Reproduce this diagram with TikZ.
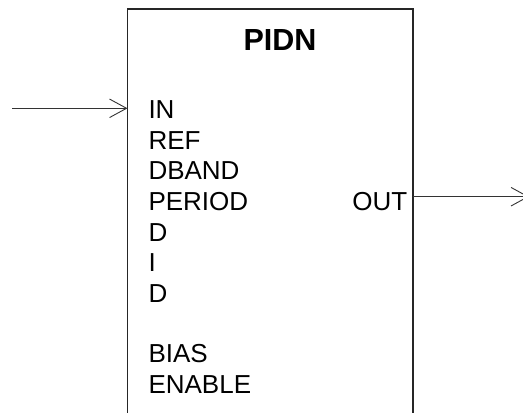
\documentclass[tikz,border=0pt]{standalone}
\usepackage{fontspec}
\setmainfont{Liberation Sans}
\usetikzlibrary{arrows.meta}
\begin{document}
\begin{tikzpicture}[x=1pt,y=-1pt,
  lbl/.style={anchor=base west,inner sep=0pt,font=\fontsize{26}{30}\selectfont},
  boxline/.style={line width=1.8pt,black!85},
  wire/.style={line width=0.9pt,black!80,-{Straight Barb[length=17pt,width=18.5pt,line width=0.9pt]}}]
\useasboundingbox (0,0) rectangle (523,413);
\coordinate (bl) at (127.5,425);
\coordinate (tl) at (127.5,9);
\coordinate (tr) at (413,9);
\coordinate (br) at (413,425);
\draw[boxline] (bl) -- (tl) -- (tr) -- (br);
\node[anchor=base,inner sep=0pt,font=\fontsize{30.5}{36}\selectfont\bfseries] (title) at (280,50) {PIDN};
\node[lbl] (in) at (148.3,118.3) {IN};
\node[lbl] (ref) at (148.3,149) {REF};
\node[lbl] (dband) at (148.3,179.7) {DBAND};
\node[lbl] (period) at (148.3,210.3) {PERIOD};
\node[lbl] (d1) at (148.3,241) {D};
\node[lbl] (i) at (148.3,271.7) {I};
\node[lbl] (d2) at (148.3,302.3) {D};
\node[lbl] (bias) at (148.3,362.7) {BIAS};
\node[lbl] (enable) at (148.3,393.3) {ENABLE};
\node[anchor=base east,inner sep=0pt,font=\fontsize{26}{30}\selectfont] (out) at (407.5,210.3) {OUT};
\coordinate (instart) at (12,108.3);
\coordinate (inend) at (127.5,108.3);
\coordinate (outstart) at (413,196.7);
\coordinate (outend) at (529,196.7);
\draw[wire] (instart) -- (inend);
\draw[wire] (outstart) -- (outend);
\end{tikzpicture}
\end{document}
